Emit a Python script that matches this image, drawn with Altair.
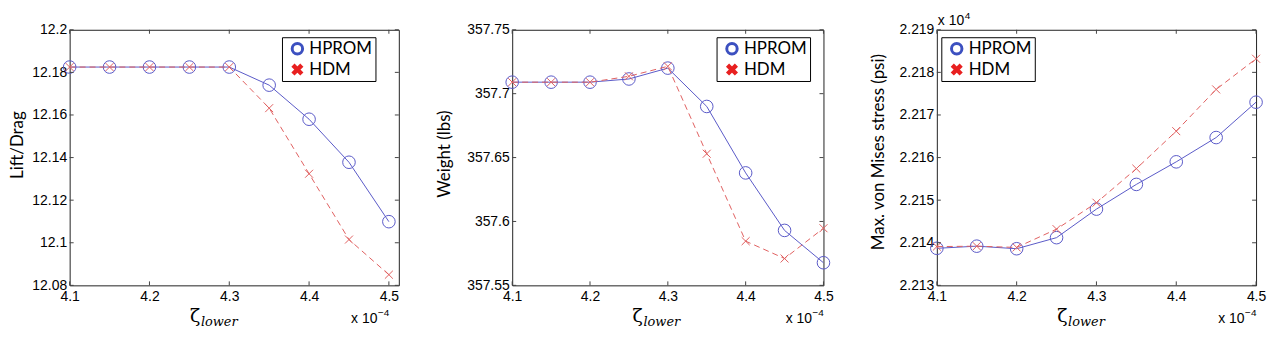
import altair as alt
import pandas as pd

# ---------------- data ----------------
zeta = [4.10, 4.15, 4.20, 4.25, 4.30, 4.35, 4.40, 4.45, 4.50]

ld_hprom = [12.1825, 12.1825, 12.1825, 12.1825, 12.1825, 12.1740, 12.1580, 12.1378, 12.1099]
ld_hdm = [12.1825, 12.1825, 12.1825, 12.1825, 12.1825, 12.1632, 12.1324, 12.1015, 12.0850]

w_hprom = [357.709, 357.709, 357.709, 357.7115, 357.720, 357.690, 357.638, 357.593, 357.5677]
w_hdm = [357.709, 357.709, 357.709, 357.7136, 357.7214, 357.653, 357.5846, 357.571, 357.5947]

s_hprom = [2.21387, 2.21392, 2.21386, 2.21412, 2.21479, 2.21537, 2.21590, 2.21647, 2.21730]
s_hdm = [2.21391, 2.21392, 2.21389, 2.21432, 2.21494, 2.21574, 2.21662, 2.21760, 2.21832]

x_ticks = [4.1, 4.2, 4.3, 4.4, 4.5]
ld_ticks = [12.08, 12.10, 12.12, 12.14, 12.16, 12.18, 12.20]
w_ticks = [357.55, 357.60, 357.65, 357.70, 357.75]
s_ticks = [2.213, 2.214, 2.215, 2.216, 2.217, 2.218, 2.219]

series_names = ["HPROM", "HDM"]
y_titles = ["Lift/Drag", "Weight (lbs)", "Max. von Mises stress (psi)"]

BLUE = "#5a5ac8"
RED = "#e06060"
LEG_BLUE = "#3c50c0"
LEG_RED = "#e82020"
FONT = "Liberation Sans"
TFONT = "Lato"

H = 257
X_SHAPE = "M-1,-1L1,1M-1,1L1,-1"


def panel(hprom, hdm, yticks, ytitle, width, xmax, title_x, title_y,
          legend_x, top_exp=False):
    df = pd.DataFrame({
        "zeta": zeta * 2,
        "value": hprom + hdm,
        "series": [series_names[0]] * len(zeta) + [series_names[1]] * len(zeta),
    })
    xs = alt.Scale(domain=[4.1, xmax], nice=False, zero=False)
    ys = alt.Scale(domain=[yticks[0], yticks[-1]], nice=False, zero=False)
    xaxis = alt.Axis(values=x_ticks, format="~f", title=None, ticks=False,
                     domain=False, grid=False, labelFlush=False, labelOverlap=False,
                     labelFontSize=14, labelFont=FONT, labelColor="#000",
                     labelPadding=4)
    yaxis = alt.Axis(values=yticks, format="~f", title=None, ticks=False,
                     domain=False, grid=False, labelFlush=False, labelOverlap=False,
                     labelFontSize=14, labelFont=FONT, labelColor="#000",
                     labelPadding=3)
    base = alt.Chart(df)
    x_enc = alt.X("zeta:Q", scale=xs, axis=xaxis)
    y_enc = alt.Y("value:Q", scale=ys, axis=yaxis)

    l_hp = base.transform_filter(alt.datum.series == "HPROM").mark_line(
        color=BLUE, strokeWidth=1).encode(x=x_enc, y=y_enc)
    p_hp = base.transform_filter(alt.datum.series == "HPROM").mark_point(
        shape="circle", size=160, color=BLUE, strokeWidth=1, filled=False,
        opacity=1).encode(x=x_enc, y=y_enc)
    l_hd = base.transform_filter(alt.datum.series == "HDM").mark_line(
        color=RED, strokeWidth=1, strokeDash=[6, 4]).encode(x=x_enc, y=y_enc)
    p_hd = base.transform_filter(alt.datum.series == "HDM").mark_point(
        shape=X_SHAPE, size=64, color=RED, strokeWidth=1, filled=False,
        opacity=1).encode(x=x_enc, y=y_enc)

    # inner ticks (MATLAB style)
    ydf = pd.DataFrame({"value": yticks})
    xdf = pd.DataFrame({"zeta": x_ticks})
    tick_col = "#444"
    yt_l = alt.Chart(ydf).mark_rule(color=tick_col, strokeWidth=1).encode(
        y=y_enc, x=alt.value(0), x2=alt.value(4))
    yt_r = alt.Chart(ydf).mark_rule(color=tick_col, strokeWidth=1).encode(
        y=y_enc, x=alt.value(width - 4), x2=alt.value(width))
    xt_b = alt.Chart(xdf).mark_rule(color=tick_col, strokeWidth=1).encode(
        x=x_enc, y=alt.value(H - 4), y2=alt.value(H))
    xt_t = alt.Chart(xdf).mark_rule(color=tick_col, strokeWidth=1).encode(
        x=x_enc, y=alt.value(0), y2=alt.value(4))

    one = alt.Chart(pd.DataFrame({"a": [0]}))
    lx = legend_x
    box = one.mark_rect(fill="white", stroke="#000", strokeWidth=1).encode(
        x=alt.value(lx), x2=alt.value(lx + 94), y=alt.value(8), y2=alt.value(52))
    leg_c = one.mark_point(shape="circle", size=110, color=LEG_BLUE, strokeWidth=3,
                           filled=False, opacity=1).encode(
        x=alt.value(lx + 15), y=alt.value(19))
    leg_x = one.mark_point(shape=X_SHAPE, size=80, color=LEG_RED, strokeWidth=4.5,
                           filled=False, opacity=1).encode(
        x=alt.value(lx + 15), y=alt.value(40))
    leg_t1 = one.mark_text(text=series_names[0], align="left", baseline="middle",
                           font=TFONT, fontSize=17, color="#000").encode(
        x=alt.value(lx + 27), y=alt.value(19))
    leg_t2 = one.mark_text(text=series_names[1], align="left", baseline="middle",
                           font=TFONT, fontSize=17, color="#000").encode(
        x=alt.value(lx + 27), y=alt.value(40))

    # y title
    yt = one.mark_text(text=ytitle, angle=270, align="center", baseline="middle",
                       font=TFONT, fontSize=17, color="#000").encode(
        x=alt.value(title_x), y=alt.value(title_y))
    # x title  zeta_lower
    zt = one.mark_text(text="ζ", align="left", baseline="alphabetic",
                       font="DejaVu Serif", fontSize=19, color="#000").encode(
        x=alt.value(121), y=alt.value(H + 37))
    zl = one.mark_text(text="lower", align="left", baseline="alphabetic",
                       font="DejaVu Serif", fontStyle="italic", fontSize=13,
                       color="#000").encode(
        x=alt.value(132), y=alt.value(H + 41))
    # x exponent (anchored at the 4.5 tick)
    x45 = width if xmax == 4.5 else 321
    xe1 = one.mark_text(text="x 10", align="left", baseline="alphabetic",
                        font=FONT, fontSize=14, color="#000").encode(
        x=alt.value(x45 - 38), y=alt.value(H + 38))
    xe2 = one.mark_text(text="−4", align="left", baseline="alphabetic",
                        font=FONT, fontSize=10, color="#000").encode(
        x=alt.value(x45 - 11), y=alt.value(H + 31))
    layers = [l_hp, p_hp, l_hd, p_hd, yt_l, yt_r, xt_b, xt_t,
              box, leg_c, leg_x, leg_t1, leg_t2, yt, zt, zl, xe1, xe2]
    if top_exp:
        te1 = one.mark_text(text="x 10", align="left", baseline="alphabetic",
                            font=FONT, fontSize=14, color="#000").encode(
            x=alt.value(1), y=alt.value(-5))
        te2 = one.mark_text(text="4", align="left", baseline="alphabetic",
                            font=FONT, fontSize=10, color="#000").encode(
            x=alt.value(28), y=alt.value(-11))
        layers += [te1, te2]
    return alt.layer(*layers).properties(width=width, height=H)


c1 = panel(ld_hprom, ld_hdm, ld_ticks, y_titles[0], 331, 4.1 + 0.4 * 331 / 321,
           -52, 116, 214)
c2 = panel(w_hprom, w_hdm, w_ticks, y_titles[1], 313, 4.5, -68, 125, 206)
c3 = panel(s_hprom, s_hdm, s_ticks, y_titles[2], 321, 4.5, -58, 123, 5, top_exp=True)

chart = alt.hconcat(c1, c2, c3, spacing=114, bounds="flush").properties(
    padding={"left": 0, "top": 1, "right": 0, "bottom": 0},
    background="white",
).configure_view(stroke="#222", strokeWidth=1)

chart.save("out.html", embed_options={"renderer": "svg", "actions": False})
